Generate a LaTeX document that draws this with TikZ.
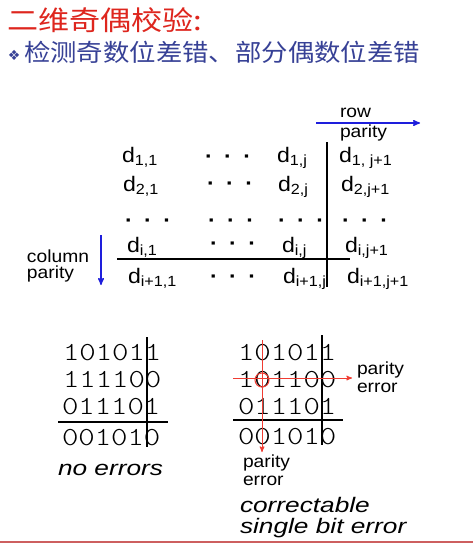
\documentclass[tikz,border=0pt]{standalone}
\usepackage{fontspec}
\setmainfont{Liberation Sans}
\newfontfamily\bitfont{Latin Modern Mono Light}
\newfontfamily\cjk{Noto Sans CJK SC}
\newfontfamily\dingfont{DejaVu Sans}
\usetikzlibrary{positioning}
\usetikzlibrary{arrows}
\definecolor{titlered}{RGB}{222,38,30}
\definecolor{subblue}{RGB}{55,65,150}
\definecolor{arrowblue}{RGB}{30,30,220}
\definecolor{errred}{RGB}{240,60,50}
\definecolor{footred}{RGB}{205,95,95}
\newcommand{\dsub}[1]{d\textsubscript{#1}}
\newcommand{\rowdots}{\textbf{\textperiodcentered\hspace{10.5pt}\textperiodcentered\hspace{10.5pt}\textperiodcentered}}

\begin{document}
\begin{tikzpicture}[x=1pt, y=-1pt]
\tikzset{
    every node/.style = {inner sep=0pt, outer sep=0pt},
    title/.style = {anchor=west, text=titlered, font=\cjk\fontsize{27}{30}\selectfont, xscale=1.15},
    subtitle/.style = {anchor=west, text=subblue, font=\cjk\fontsize{24}{28}\selectfont, xscale=1.1},
    bullet/.style = {anchor=west, text=subblue, font=\dingfont\fontsize{14}{16}\selectfont},
    entry/.style = {anchor=base west, font=\fontsize{21}{24}\selectfont, xscale=1.1},
    lbl/.style = {anchor=base west, font=\fontsize{17.5}{20}\selectfont, xscale=1.1},
    bits/.style = {anchor=base west, font=\bitfont\fontsize{26}{28}\selectfont, xscale=1.2},
    caption/.style = {anchor=base west, font=\itshape\fontsize{21}{24}\selectfont, xscale=1.25},
    rule/.style = {draw, line width=1.4pt},
    bluearrow/.style = {draw=arrowblue, line width=1.4pt, ->, >=stealth'},
    redarrow/.style = {draw=errred, line width=1pt, ->, >=stealth'},
}
\useasboundingbox (0,0) rectangle (473,543);
\fill[white] (0,0) rectangle (473,543);

% -------------------------------------------------------
\node[title] (title) at (7,20) {二维奇偶校验:};
\node[bullet] (bullet) at (8,55) {❖};
\node[subtitle] (subtitle) at (24,52) {检测奇数位差错、部分偶数位差错};

% -------------------------------------------------------
\node[entry] (d11) at (122,162) {\dsub{1,1}};
\node[entry] (dots1) at (205,163) {\rowdots};
\node[entry] (d1j) at (277,162) {\dsub{1,j}};
\node[entry] (d1p) at (339,162) {\dsub{1, j+1}};

\node[entry] (d21) at (123,191) {\dsub{2,1}};
\node[entry] (dots2) at (207,190) {\rowdots};
\node[entry] (d2j) at (278,191) {\dsub{2,j}};
\node[entry] (d2p) at (341,191) {\dsub{2,j+1}};

\node[entry] (dots3a) at (125,227) {\rowdots};
\node[entry] (dots3b) at (208,227) {\rowdots};
\node[entry] (dots3c) at (278,227) {\rowdots};
\node[entry] (dots3d) at (342,227) {\rowdots};

\node[entry] (di1) at (127,252) {\dsub{i,1}};
\node[entry] (dots4) at (210,250) {\rowdots};
\node[entry] (dij) at (282,252) {\dsub{i,j}};
\node[entry] (dip) at (345,252) {\dsub{i,j+1}};

\node[entry] (dn1) at (128,283) {\dsub{i+1,1}};
\node[entry] (dots5) at (210,283) {\rowdots};
\node[entry] (dnj) at (283,283) {\dsub{i+1,j}};
\node[entry] (dnp) at (347,283) {\dsub{i+1,j+1}};

\coordinate (vtop) at (327,142);
\coordinate (vbot) at (327,287);
\coordinate (hleft) at (117,259);
\coordinate (hright) at (350,259);
\path[rule] (vtop) -- (vbot);
\path[rule] (hleft) -- (hright);

\coordinate (rowfrom) at (316,123);
\coordinate (rowto) at (420,123);
\path[bluearrow] (rowfrom) -- (rowto);
\node[lbl] (rowtxt) at (340,117) {row};
\node[lbl] (rowpar) at (340,137) {parity};

\coordinate (colfrom) at (101,235);
\coordinate (colto) at (101,285);
\path[bluearrow] (colfrom) -- (colto);
\node[lbl] (coltxt) at (27,262) {column};
\node[lbl] (colpar) at (27,278) {parity};

% -------------------------------------------------------
\node[bits] (a1) at (63,360) {101011};
\node[bits] (a2) at (63,387) {111100};
\node[bits] (a3) at (62,414) {011101};
\node[bits] (a4) at (62,445) {001010};
\coordinate (avtop) at (147,337);
\coordinate (avbot) at (147,447);
\coordinate (ahleft) at (58,422);
\coordinate (ahright) at (168,422);
\path[rule] (avtop) -- (avbot);
\path[rule] (ahleft) -- (ahright);
\node[caption] (noerr) at (58,475) {no errors};

% -------------------------------------------------------
\node[bits] (b1) at (238,360) {101011};
\node[bits] (b2) at (238,387) {101100};
\node[bits] (b3) at (238,414) {011101};
\node[bits] (b4) at (238,444) {001010};
\coordinate (bvtop) at (322,335);
\coordinate (bvbot) at (322,445);
\coordinate (bhleft) at (233,420);
\coordinate (bhright) at (343,420);
\path[rule] (bvtop) -- (bvbot);
\path[rule] (bhleft) -- (bhright);

\node[draw=errred, line width=1pt, circle, minimum size=14pt] (flip) at (262,380) {};
\coordinate (colerrtop) at (262,340);
\coordinate (colerrend) at (262,452);
\coordinate (rowerrleft) at (233,378);
\coordinate (rowerrend) at (352,378);
\path[redarrow] (colerrtop) -- (colerrend);
\path[redarrow] (rowerrleft) -- (rowerrend);

\node[lbl] (rpar) at (357,374) {parity};
\node[lbl] (rerr) at (357,392) {error};
\node[lbl] (cpar) at (243,467) {parity};
\node[lbl] (cerr) at (243,485) {error};

\node[caption] (corr) at (240,512) {correctable};
\node[caption] (single) at (240,533) {single bit error};

% -------------------------------------------------------
\coordinate (footl) at (0,542);
\coordinate (footr) at (473,542);
\path[draw=footred, line width=2pt] (footl) -- (footr);
\end{tikzpicture}
\end{document}
